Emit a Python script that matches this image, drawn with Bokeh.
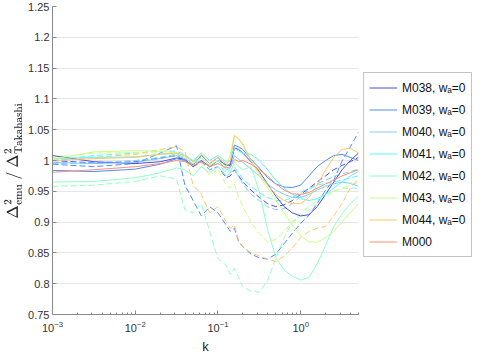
from bokeh.plotting import figure
from bokeh.layouts import row
from bokeh.models import Range1d, FixedTicker, Legend, LegendItem, LogTicker
from bokeh.embed import file_html
from bokeh.resources import INLINE

# ---------------- data ----------------
k = [0.001, 0.00316, 0.01, 0.02, 0.0316, 0.0398, 0.0501, 0.0631, 0.0794, 0.1,
     0.126, 0.141, 0.158, 0.178, 0.2, 0.251, 0.316, 0.398, 0.501, 0.631,
     0.794, 1.0, 1.26, 1.58, 2.0, 2.51, 3.16, 3.98, 5.0]

models = ["M038", "M039", "M040", "M041", "M042", "M043", "M044", "M000"]
legend_labels = ["M038, w\u2090=0", "M039, w\u2090=0", "M040, w\u2090=0", "M041, w\u2090=0",
                 "M042, w\u2090=0", "M043, w\u2090=0", "M044, w\u2090=0", "M000"]
colors = ["#4b4be6", "#4d8cff", "#7fcbff", "#5cf5ff", "#8fffc8", "#c8ff80", "#ffc566", "#ff9070"]

solid_M038 = [1.008, 0.998, 0.995, 0.998, 1.004, 1.002, 0.99, 1.0, 0.99, 1.0, 0.993, 0.992, 1.02, 1.018, 1.012,
              0.998, 0.982, 0.962, 0.942, 0.925, 0.915, 0.91, 0.912, 0.925, 0.945, 0.965, 0.985, 1.0, 1.012]
solid_M039 = [0.984, 0.982, 0.986, 0.994, 1.003, 1.0, 0.993, 1.008, 0.995, 1.005, 0.99, 0.995, 1.025, 1.022, 1.018,
              1.002, 0.988, 0.972, 0.962, 0.957, 0.956, 0.96, 0.975, 0.99, 1.0, 1.008, 1.01, 1.005, 1.0]
solid_M040 = [0.997, 0.995, 0.997, 1.003, 1.008, 1.003, 0.995, 1.005, 0.992, 1.0, 0.985, 0.988, 1.008, 1.002, 0.997,
              0.986, 0.975, 0.962, 0.952, 0.945, 0.94, 0.94, 0.945, 0.952, 0.958, 0.962, 0.965, 0.963, 0.958]
solid_M041 = [1.003, 1.005, 1.006, 1.01, 1.012, 1.008, 1.0, 1.012, 1.0, 1.008, 0.998, 1.0, 1.02, 1.015, 1.012,
              1.01, 1.0, 0.985, 0.968, 0.955, 0.945, 0.938, 0.935, 0.938, 0.945, 0.955, 0.965, 0.975, 0.982]
solid_M042 = [0.965, 0.966, 0.972, 0.98, 0.988, 0.985, 0.975, 0.99, 0.98, 0.99, 0.975, 0.98, 0.998, 0.99, 0.985,
              0.99, 0.95, 0.888, 0.842, 0.822, 0.812, 0.806, 0.81, 0.832, 0.862, 0.893, 0.913, 0.93, 0.942]
solid_M043 = [1.002, 1.014, 1.016, 1.015, 1.012, 1.005, 0.995, 1.005, 0.992, 1.0, 0.99, 1.01, 1.04, 1.035, 1.028,
              1.0, 0.975, 0.955, 0.935, 0.915, 0.895, 0.878, 0.868, 0.867, 0.875, 0.885, 0.9, 0.915, 0.93]
solid_M044 = [1.0, 1.003, 1.005, 1.01, 1.012, 1.008, 0.998, 1.01, 0.995, 1.005, 0.995, 1.0, 1.041, 1.035, 1.025,
              1.0, 0.98, 0.96, 0.945, 0.935, 0.93, 0.93, 0.94, 0.96, 0.985, 1.005, 1.018, 1.02, 1.012]
solid_M000 = [0.981, 0.985, 0.99, 0.995, 1.0, 0.998, 0.992, 0.998, 0.99, 0.995, 0.988, 0.99, 1.002, 0.998, 1.0,
              0.994, 0.985, 0.975, 0.962, 0.952, 0.946, 0.945, 0.948, 0.955, 0.962, 0.968, 0.975, 0.98, 0.985]

dashed_M038 = [1.0, 0.996, 0.998, 1.004, 1.008, 1.0, 0.99, 0.998, 0.985, 0.99, 0.972, 0.975, 0.985, 0.975, 0.965,
               0.952, 0.94, 0.93, 0.925, 0.928, 0.935, 0.945, 0.955, 0.965, 0.975, 0.985, 0.992, 0.998, 1.005]
dashed_M039 = [0.994, 0.99, 0.995, 1.012, 1.024, 0.96, 0.935, 0.91, 0.925, 0.915, 0.895, 0.885, 0.89, 0.868, 0.86,
               0.848, 0.842, 0.84, 0.848, 0.865, 0.882, 0.898, 0.911, 0.93, 0.952, 0.968, 0.999, 1.022, 1.046]
dashed_M040 = [0.995, 0.996, 1.0, 1.005, 1.01, 1.005, 0.995, 1.0, 0.985, 0.99, 0.975, 0.98, 0.985, 0.975, 0.962,
               0.945, 0.935, 0.925, 0.92, 0.922, 0.93, 0.942, 0.952, 0.962, 0.968, 0.974, 0.978, 0.982, 0.986]
dashed_M041 = [1.0, 1.008, 1.012, 1.015, 1.015, 1.01, 0.998, 1.005, 0.99, 0.995, 0.98, 0.985, 0.99, 0.98, 0.97,
               0.958, 0.948, 0.94, 0.935, 0.935, 0.94, 0.948, 0.955, 0.96, 0.963, 0.965, 0.968, 0.972, 0.975]
dashed_M042 = [0.958, 0.96, 0.966, 0.975, 0.97, 0.92, 0.915, 0.93, 0.885, 0.84, 0.83, 0.815, 0.825, 0.81, 0.795,
               0.788, 0.786, 0.805, 0.842, 0.875, 0.9, 0.915, 0.925, 0.935, 0.945, 0.95, 0.955, 0.955, 0.955]
dashed_M043 = [1.005, 1.012, 1.013, 1.012, 1.01, 1.0, 0.99, 0.995, 0.975, 0.985, 0.96, 0.955, 0.962, 0.94, 0.925,
               0.9, 0.882, 0.868, 0.872, 0.885, 0.9, 0.91, 0.92, 0.93, 0.94, 0.95, 0.955, 0.96, 0.965]
dashed_M044 = [1.0, 1.005, 1.01, 1.018, 1.022, 1.015, 0.96, 0.945, 0.915, 0.925, 0.9, 0.89, 0.895, 0.87, 0.86,
               0.85, 0.845, 0.84, 0.836, 0.845, 0.858, 0.875, 0.885, 0.89, 0.893, 0.91, 0.93, 0.955, 0.97]

y_ticks = [0.75, 0.8, 0.85, 0.9, 0.95, 1.0, 1.05, 1.1, 1.15, 1.2, 1.25]
y_tick_labels = ["0.75", "0.8", "0.85", "0.9", "0.95", "1", "1.05", "1.1", "1.15", "1.2", "1.25"]

solids = [solid_M038, solid_M039, solid_M040, solid_M041, solid_M042, solid_M043, solid_M044, solid_M000]
dashes = [dashed_M038, dashed_M039, dashed_M040, dashed_M041, dashed_M042, dashed_M043, dashed_M044]

# ---------------- main figure ----------------
FONT = "Liberation Sans"
FW, FH = 306, 308
p = figure(frame_width=FW, frame_height=FH, x_axis_type="log",
           x_range=Range1d(0.001, 5), y_range=Range1d(0.75, 1.25),
           output_backend="svg", toolbar_location=None,
           min_border_left=6, min_border_top=6, min_border_bottom=2, min_border_right=4)
p.outline_line_color = None
p.background_fill_color = "white"
p.border_fill_color = "white"

p.xgrid.grid_line_color = None
p.ygrid.grid_line_color = "#e6e6e6"
p.ygrid.ticker = FixedTicker(ticks=y_ticks)

p.yaxis.ticker = FixedTicker(ticks=y_ticks)
p.yaxis.major_label_overrides = {t: l for t, l in zip(y_ticks, y_tick_labels)}
p.xaxis.ticker = LogTicker(num_minor_ticks=10)

for ax in (p.xaxis[0], p.yaxis[0]):
    ax.axis_line_color = "#888888"
    ax.major_tick_line_color = "#888888"
    ax.minor_tick_line_color = "#888888"
    ax.major_tick_in = 4
    ax.major_tick_out = 0
    ax.minor_tick_in = 2
    ax.minor_tick_out = 0
    ax.major_label_text_font = FONT
    ax.major_label_text_font_size = "11px"
    ax.major_label_text_color = "#333333"
    ax.axis_label_text_font = FONT
    ax.axis_label_text_font_style = "normal"
    ax.axis_label_text_color = "#262626"
p.yaxis.minor_tick_line_color = None
p.xaxis.axis_label = "k"
p.xaxis.axis_label_text_font_size = "13px"
p.xaxis.axis_label_standoff = 4
p.yaxis.axis_label = r"$$\Delta^2_{\mathrm{emu}}\ /\ \Delta^2_{\mathrm{Takahashi}}$$"
p.yaxis.axis_label_text_font_size = "12px"
p.yaxis.axis_label_standoff = 3
p.yaxis.major_label_standoff = 3
p.xaxis.major_label_standoff = 6

for ys, c in zip(dashes, colors):
    p.line(k, ys, line_color=c, line_width=1, line_dash="6 3")
for ys, c in zip(solids, colors):
    p.line(k, ys, line_color=c, line_width=1)

# ---------------- legend panel ----------------
LH = 343
q = figure(width=110, height=LH, x_range=Range1d(0, 1), y_range=Range1d(0, 1),
           output_backend="svg", toolbar_location=None,
           min_border_left=0, min_border_right=0, min_border_top=0, min_border_bottom=0)
q.axis.visible = False
q.xgrid.grid_line_color = None
q.ygrid.grid_line_color = None
q.outline_line_color = None
q.background_fill_color = "white"
q.border_fill_color = "white"

items = []
for c, lab in zip(colors, legend_labels):
    # legend key sample only: drawn outside the visible 0..1 range of this panel
    r = q.line([5, 6], [5, 6], line_color=c, line_width=1)
    items.append(LegendItem(label=lab, renderers=[r]))

legend = Legend(items=items, location=(1, 44))
legend.label_text_font = FONT
legend.label_text_font_size = "12px"
legend.label_text_color = "#111111"
legend.border_line_color = "#888888"
legend.border_line_width = 1
legend.padding = 5
legend.spacing = 3
legend.glyph_width = 28
legend.glyph_height = 19
legend.label_height = 19
legend.label_standoff = 5
legend.margin = 0
legend.background_fill_alpha = 1
q.add_layout(legend, "center")

layout = row(p, q)
open("out.html", "w").write(file_html(layout, INLINE))
